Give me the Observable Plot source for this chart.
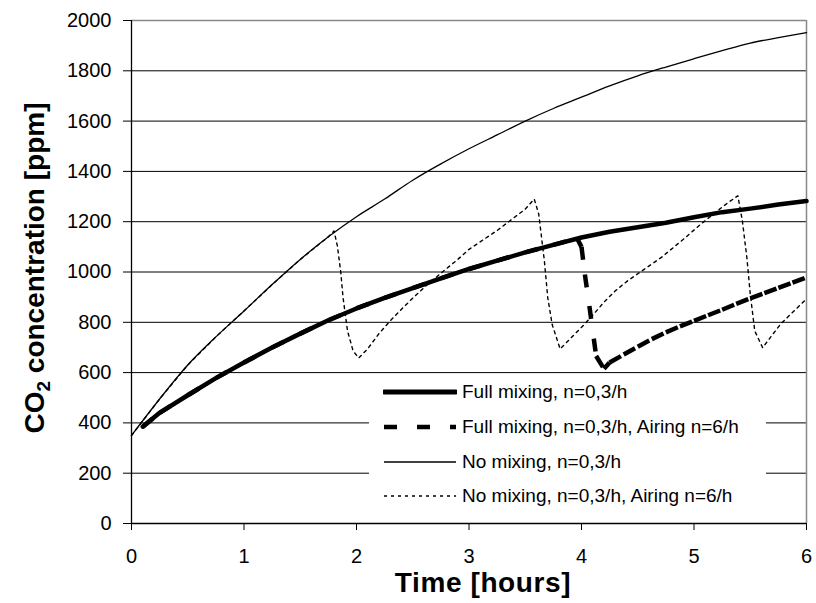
<!DOCTYPE html>
<html>
<head>
<meta charset="utf-8">
<script src="https://cdn.jsdelivr.net/npm/d3@7"></script>
<script src="https://cdn.jsdelivr.net/npm/@observablehq/plot@0.6"></script>
<style>
  html, body { margin: 0; padding: 0; background: #fff; }
  #wrap { position: relative; width: 816px; height: 603px; font-family: "Liberation Sans", Arial, sans-serif; }
  #legend { position: absolute; left: 369px; top: 376px; width: 397px; height: 143px; background: #fff; }
  .row { position: absolute; left: 0; height: 30px; display: flex; align-items: center; font-size: 19px; color: #000; white-space: nowrap; }
  .row svg { margin-left: 14px; margin-right: 5px; }
</style>
</head>
<body>
<div id="wrap"></div>
<script>
// ---- data ----
const xTicks = [0, 1, 2, 3, 4, 5, 6];
const yTicks = [0, 200, 400, 600, 800, 1000, 1200, 1400, 1600, 1800, 2000];

const seriesNames = [
  "Full mixing, n=0,3/h",
  "Full mixing, n=0,3/h, Airing n=6/h",
  "No mixing, n=0,3/h",
  "No mixing, n=0,3/h, Airing n=6/h"
];

const fullMixHours = [0.1,0.25,0.5,0.75,1,1.25,1.5,1.75,2,2.25,2.5,2.75,3,3.25,3.5,3.75,4,4.25,4.5,4.75,5,5.25,5.5,5.75,6];
const fullMixing   = [385,440,510,578,640,700,755,808,855,897,936,975,1012,1045,1078,1108,1137,1160,1178,1196,1218,1238,1252,1268,1282];

const fullAirHours  = [0.1,0.25,0.5,0.75,1,1.25,1.5,1.75,2,2.25,2.5,2.75,3,3.25,3.5,3.75,3.96,4.0,4.03,4.07,4.13,4.2,4.25,4.375,4.5,4.625,4.75,4.875,5,5.125,5.25,5.375,5.5,5.625,5.75,5.875,6];
const fullMixAiring = [385,440,510,578,640,700,755,808,855,897,936,975,1012,1045,1078,1108,1134,1100,990,865,666,615,640,672,703,733,760,784,806,828,850,873,895,916,937,958,978];

const noMixHours = [0,0.25,0.5,0.75,1,1.25,1.5,1.75,2,2.25,2.5,2.75,3,3.25,3.5,3.75,4,4.25,4.5,4.75,5,5.25,5.5,5.75,6];
const noMixing   = [350,495,630,742,845,950,1050,1140,1220,1290,1365,1430,1490,1545,1600,1650,1695,1740,1780,1815,1848,1880,1910,1932,1952];

const noAirHours = [0,0.25,0.5,0.75,1,1.25,1.5,1.75,1.8,1.83,1.86,1.88,1.92,1.97,2.02,2.1,2.2,2.3,2.4,2.5,2.6,2.75,2.9,3.0,3.25,3.5,3.58,3.62,3.67,3.70,3.74,3.81,3.9,4.0,4.08,4.2,4.3,4.41,4.5,4.71,4.9,5.06,5.2,5.3,5.39,5.43,5.47,5.5,5.54,5.61,5.77,5.9,6];
const noMixingAiring = [350,495,630,742,845,950,1050,1140,1163,1104,1000,900,766,686,658,695,755,806,852,896,938,995,1050,1090,1165,1250,1290,1230,1044,898,790,694,735,780,818,880,925,965,993,1058,1128,1190,1240,1275,1303,1203,1057,913,766,699,793,850,893];

// ---- tables built from the arrays ----
const toRows = (hs, vs) => hs.map((t, i) => ({t, v: vs[i]}));
const fullRows = toRows(fullMixHours, fullMixing);
const noRows = toRows(noMixHours, noMixing);
const noAirRows = toRows(noAirHours, noMixingAiring);
// dash pattern restarts at every segment (as in the original spreadsheet rendering)
const fullAirSegs = [];
for (let i = 0; i < fullAirHours.length - 1; i++) {
  fullAirSegs.push({t: fullAirHours[i], v: fullMixAiring[i], seg: i});
  fullAirSegs.push({t: fullAirHours[i + 1], v: fullMixAiring[i + 1], seg: i});
}

const styles = [
  {strokeWidth: 4.5, dash: null},
  {strokeWidth: 4.5, dash: "13,20"},
  {strokeWidth: 1.3, dash: null},
  {strokeWidth: 1.4, dash: "3,4"}
];

const chart = Plot.plot({
  width: 816,
  height: 603,
  marginLeft: 131,
  marginRight: 10,
  marginTop: 20,
  marginBottom: 80,
  style: {fontFamily: '"Liberation Sans", Arial, sans-serif', fontSize: "20px", color: "#000", background: "#fff", overflow: "visible"},
  x: {domain: [0, 6], label: null},
  y: {domain: [0, 2000], label: null},
  marks: [
    Plot.ruleY(yTicks.filter(d => d > 0 && d < 2000), {stroke: "#000", strokeWidth: 1}),
    Plot.ruleY([2000], {stroke: "#888", strokeWidth: 1.5}),
    Plot.ruleX([6], {stroke: "#888", strokeWidth: 1.5}),
    Plot.line(fullRows, {x: "t", y: "v", stroke: "#000", strokeWidth: styles[0].strokeWidth, strokeLinejoin: "round"}),
    Plot.line(fullAirSegs, {x: "t", y: "v", z: "seg", stroke: "#000", strokeWidth: styles[1].strokeWidth, strokeDasharray: styles[1].dash, strokeLinecap: "butt"}),
    Plot.line(noRows, {x: "t", y: "v", stroke: "#000", strokeWidth: styles[2].strokeWidth, curve: "monotone-x"}),
    Plot.line(noAirRows, {x: "t", y: "v", stroke: "#000", strokeWidth: styles[3].strokeWidth, strokeDasharray: styles[3].dash}),
    Plot.ruleX([0], {stroke: "#000", strokeWidth: 1.3}),
    Plot.ruleY([0], {stroke: "#000", strokeWidth: 1.3}),
    Plot.axisX(xTicks, {tickSize: 7, tickPadding: 18, fontSize: 20, tickFormat: d => String(d), label: null}),
    Plot.axisY(yTicks, {tickSize: 8, tickPadding: 12, fontSize: 20, tickFormat: d => String(d), label: null})
  ]
});

const wrap = document.getElementById("wrap");
wrap.appendChild(chart);

// axis titles
const svg = d3.select(chart);
svg.append("text")
  .attr("x", 483)
  .attr("y", 592)
  .attr("text-anchor", "middle")
  .style("font-family", '"Liberation Sans", Arial, sans-serif')
  .style("font-size", "28px")
  .style("font-weight", "bold")
  .style("letter-spacing", "0.6px")
  .attr("fill", "#000")
  .text("Time [hours]");

const yt = svg.append("text")
  .attr("transform", "translate(44,268) rotate(-90)")
  .attr("text-anchor", "middle")
  .style("font-family", '"Liberation Sans", Arial, sans-serif')
  .style("font-size", "28px")
  .style("font-weight", "bold")
  .attr("fill", "#000");
yt.append("tspan").text("CO");
yt.append("tspan").attr("dy", 6).style("font-size", "19px").text("2");
yt.append("tspan").attr("dy", -6).text(" concentration [ppm]");

// legend overlay
const legend = document.createElement("div");
legend.id = "legend";
const rowTops = [1, 36, 71, 105];
seriesNames.forEach((name, i) => {
  const row = document.createElement("div");
  row.className = "row";
  row.style.top = rowTops[i] + "px";
  const s = d3.create("svg").attr("width", 74).attr("height", 12);
  s.append("line")
    .attr("x1", 1).attr("x2", 73).attr("y1", 6).attr("y2", 6)
    .attr("stroke", "#000")
    .attr("stroke-width", i === 0 ? 5 : styles[i].strokeWidth)
    .attr("stroke-linecap", i === 0 ? "round" : "butt")
    .attr("stroke-dasharray", styles[i].dash);
  row.appendChild(s.node());
  const label = document.createElement("span");
  label.textContent = name;
  row.appendChild(label);
  legend.appendChild(row);
});
wrap.appendChild(legend);
</script>
</body>
</html>
